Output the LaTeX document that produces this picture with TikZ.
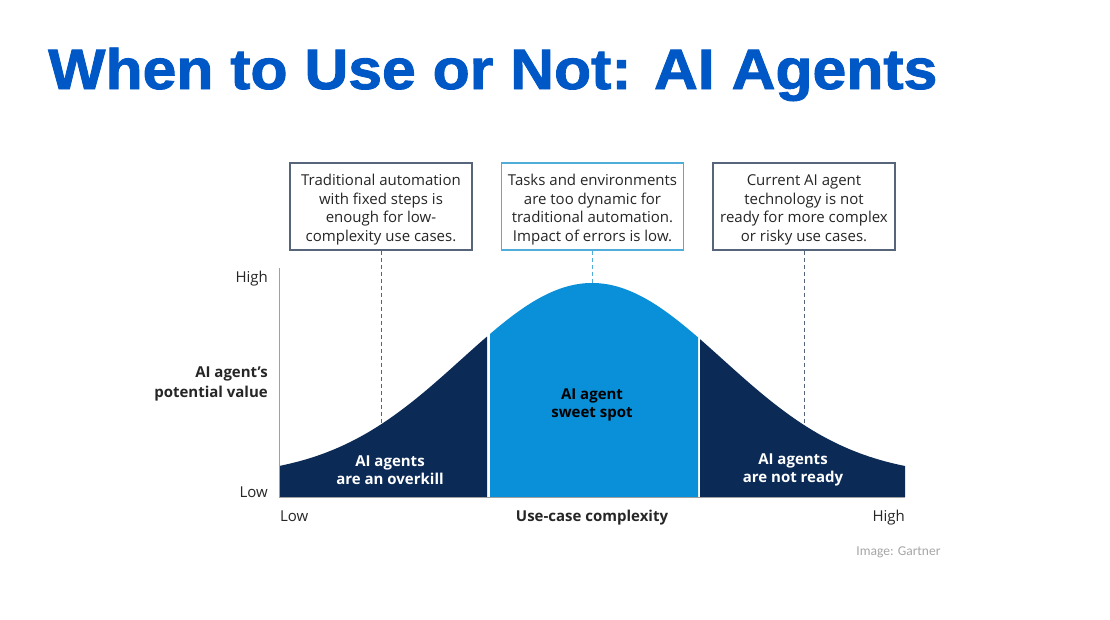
\documentclass[tikz,border=0pt]{standalone}
\usepackage{fontspec}
\setmainfont{Open Sans}
\newfontfamily\titlefont[FakeBold=1.5]{Liberation Sans Bold}
\newfontfamily\creditfont{Carlito}
\usepackage{xcolor}
\usetikzlibrary{positioning, arrows.meta}

\definecolor{titleblue}{HTML}{0058C6}
\definecolor{navy}{HTML}{0B2A55}
\definecolor{sky}{HTML}{0A90D8}
\definecolor{boxgray}{HTML}{56657A}
\definecolor{boxblue}{HTML}{50ACD8}
\definecolor{axisgray}{HTML}{A0A0A0}

\newcommand\notestrut{\rule{0pt}{17.5pt}}

\tikzset{
  note/.style={draw=boxgray, line width=1.2pt, minimum width=182pt, minimum height=87pt,
    inner sep=0pt, align=center, text=black!85, font=\fontsize{15}{18.5}\selectfont},
  leader/.style={draw=boxgray, dash pattern=on 4pt off 3pt, line width=1pt},
  axislabel/.style={inner sep=0pt, text=black!85, font=\fontsize{15}{18}\selectfont},
  zonelabel/.style={align=center, font=\bfseries\fontsize{15}{18}\selectfont},
}

\begin{document}
\begin{tikzpicture}[x=1pt, y=-1pt,
    declare function={bell(\x)=477-194*exp(-(((\x-592)/100)^2/3.4136));}]
  \useasboundingbox[fill=white] (0,0) rectangle (1110,619);

  % title
  \node[anchor=base west, inner sep=0pt, xscale=1.065, text=titleblue,
    font=\titlefont\fontsize{57}{57}\selectfont] (title) at (48,89) {When to Use or Not: AI Agents};

  % the three zones under the curve
  \fill[navy] (280,497) -- plot[domain=280:487, samples=60] (\x,{bell(\x)}) -- (487,497) -- cycle;
  \fill[sky] (490,497) -- plot[domain=490:698, samples=60] (\x,{bell(\x)}) -- (698,497) -- cycle;
  \fill[navy] (700,497) -- plot[domain=700:905, samples=60] (\x,{bell(\x)}) -- (905,497) -- cycle;

  % axes
  \draw[axisgray, line width=1pt] (279,268) -- (279,497) -- (905,497);

  % notes above
  \node[note] (fixed) at (381,206.5) {\notestrut Traditional automation\\with fixed steps is\\enough for low-\\complexity use cases.};
  \node[note, draw=boxblue] (dynamic) at (592.5,206.5) {\notestrut Tasks and environments\\are too dynamic for\\traditional automation.\\Impact of errors is low.};
  \node[note] (risky) at (804,206.5) {\notestrut Current AI agent\\technology is not\\ready for more complex\\or risky use cases.};

  \coordinate (lowtip) at (381,{bell(381)});
  \coordinate (peaktip) at (592.5,{bell(592.5)});
  \coordinate (hightip) at (804,{bell(804)});
  \draw[leader] (fixed.south) -- (lowtip);
  \draw[leader, draw=boxblue] (dynamic.south) -- (peaktip);
  \draw[leader] (risky.south) -- (hightip);

  % zone labels
  \node[zonelabel, text=white] (overkill) at (390,470) {AI agents\\are an overkill};
  \node[zonelabel, text=black] (sweet) at (592,405) {AI agent\\sweet spot};
  \node[zonelabel, text=white] (notready) at (793,470) {AI agents\\are not ready};

  % axis labels
  \node[axislabel, anchor=base east] (vhigh) at (268,282) {High};
  \node[axislabel, anchor=base east] (vlow) at (268,497) {Low};
  \node[axislabel, anchor=east, align=right, font=\bfseries\fontsize{15}{19.5}\selectfont] (value) at (268,384) {AI agent’s\\potential value};
  \node[axislabel, anchor=base west] (hlow) at (280,521) {Low};
  \node[axislabel, anchor=base, font=\bfseries\fontsize{15}{18}\selectfont] (complexity) at (592,521) {Use-case complexity};
  \node[axislabel, anchor=base east] (hhigh) at (905,521) {High};

  \node[anchor=east, text=black!35, font=\creditfont\fontsize{13.5}{15}\selectfont] (credit) at (944,552) {Image: Gartner};
\end{tikzpicture}
\end{document}
